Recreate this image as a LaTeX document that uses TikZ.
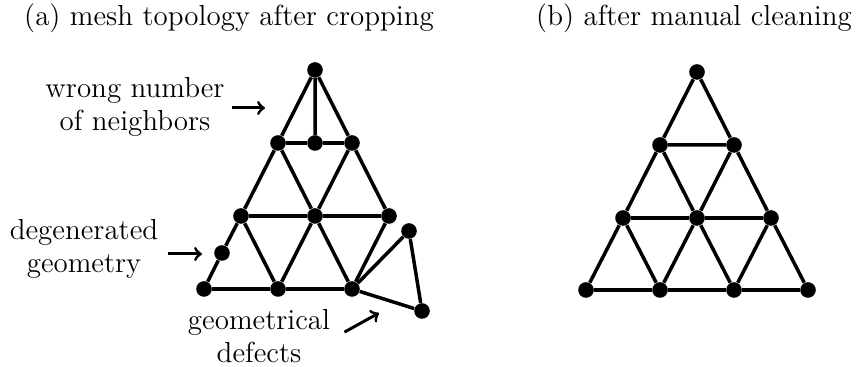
\documentclass[tikz,border=0pt]{standalone}
\usepackage{tikz}
\usetikzlibrary{arrows, positioning, calc}

\begin{document}
\begin{tikzpicture}[
  x=0.5pt, y=-0.5pt,
  dot/.style   = {circle, fill=black, inner sep=0pt, minimum size=7.8pt},
  edge/.style  = {line width=1.75pt},
  arr/.style   = {->, line width=1.5pt, >=to},
  lbl/.style   = {align=center, inner sep=3.5pt, font=\fontsize{14.5}{16.5}\selectfont},
  ttl/.style   = {anchor=base, inner sep=0pt, font=\fontsize{14.5}{16.5}\selectfont},
]
\useasboundingbox (0,0) rectangle (858,367);

%% ── TITULOS ───────────────────────────────────────────────────────────────
\node[ttl] (ta) at (229, 26) {(a) mesh topology after cropping};
\node[ttl] (tb) at (694, 26) {(b) after manual cleaning};

%% ── MALLA (a): tras el recorte ────────────────────────────────────────────
\node[dot] (a1)  at (315,  70) {};
\node[dot] (a2)  at (278, 143) {};
\node[dot] (a3)  at (315, 143) {};
\node[dot] (a4)  at (352, 143) {};
\node[dot] (a5)  at (241, 216) {};
\node[dot] (a6)  at (315, 216) {};
\node[dot] (a7)  at (389, 216) {};
\node[dot] (a8)  at (222, 253) {};
\node[dot] (a9)  at (204, 289) {};
\node[dot] (a10) at (278, 289) {};
\node[dot] (a11) at (352, 289) {};
\node[dot] (a12) at (409, 231) {};
\node[dot] (a13) at (422, 311) {};

\draw[edge] (a1) -- (a2)  (a1) -- (a3)  (a1) -- (a4);
\draw[edge] (a2) -- (a3)  (a3) -- (a4);
\draw[edge] (a2) -- (a5)  (a2) -- (a6)  (a4) -- (a6)  (a4) -- (a7);
\draw[edge] (a5) -- (a6)  (a6) -- (a7);
\draw[edge] (a5) -- (a8)  (a8) -- (a9);
\draw[edge] (a5) -- (a10) (a6) -- (a10) (a6) -- (a11) (a7) -- (a11);
\draw[edge] (a9) -- (a10) (a10) -- (a11);
\draw[edge] (a11) -- (a12) (a12) -- (a13) (a13) -- (a11);

%% Etiquetas de defectos
\node[lbl] (wrong) at (135, 107)   {wrong number\\of neighbors};
\node[lbl] (degen) at (84, 249)    {degenerated\\geometry};
\node[lbl] (geom)  at (259, 336)   {geometrical\\defects};

\coordinate (wrongtip) at (265, 108);
\coordinate (degentip) at (202, 254);
\coordinate (geomtip)  at (379, 313);

\draw[arr] (wrong.east |- wrongtip) -- (wrongtip);
\draw[arr, shorten <=1pt] (degen.east |- degentip) -- (degentip);
\draw[arr, shorten <=4pt] (geom.east) -- (geomtip);

%% ── MALLA (b): tras la limpieza manual ────────────────────────────────────
\node[dot] (b1)  at (697,  72) {};
\node[dot] (b2)  at (660, 145) {};
\node[dot] (b3)  at (734, 145) {};
\node[dot] (b4)  at (623, 218) {};
\node[dot] (b5)  at (697, 218) {};
\node[dot] (b6)  at (771, 218) {};
\node[dot] (b7)  at (586, 290) {};
\node[dot] (b8)  at (660, 290) {};
\node[dot] (b9)  at (734, 290) {};
\node[dot] (b10) at (808, 290) {};

\draw[edge] (b1) -- (b2)  (b1) -- (b3)  (b2) -- (b3);
\draw[edge] (b2) -- (b4)  (b2) -- (b5)  (b3) -- (b5)  (b3) -- (b6);
\draw[edge] (b4) -- (b5)  (b5) -- (b6);
\draw[edge] (b4) -- (b7)  (b4) -- (b8)  (b5) -- (b8)  (b5) -- (b9)
            (b6) -- (b9)  (b6) -- (b10);
\draw[edge] (b7) -- (b8)  (b8) -- (b9)  (b9) -- (b10);

\end{tikzpicture}
\end{document}
